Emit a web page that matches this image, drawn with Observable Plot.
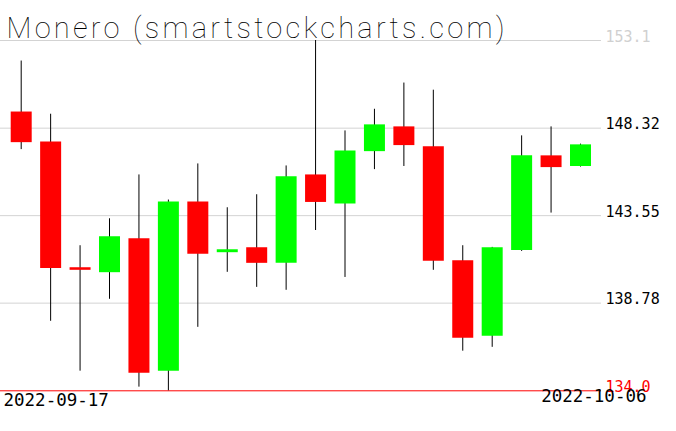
<!DOCTYPE html>
<html>
<head>
<meta charset="utf-8">
<script src="https://cdn.jsdelivr.net/npm/d3@7"></script>
<script src="https://cdn.jsdelivr.net/npm/@observablehq/plot@0.6"></script>
<style>
  html, body { margin: 0; padding: 0; background: #fff; }
  svg { display: block; }
</style>
</head>
<body>
<div id="chart"></div>
<script>
const title = "Monero (smartstockcharts.com)";
const dates = ["2022-09-17","2022-09-18","2022-09-19","2022-09-20","2022-09-21","2022-09-22","2022-09-23","2022-09-24","2022-09-25","2022-09-26",
               "2022-09-27","2022-09-28","2022-09-29","2022-09-30","2022-10-01","2022-10-02","2022-10-03","2022-10-04","2022-10-05","2022-10-06"];
const opens  = [149.20,147.57,140.71,140.44,142.29,135.07,144.30,141.53,141.80,140.95,145.77,144.18,147.04,148.39,147.30,141.09,136.97,141.65,146.81,146.23];
const closes = [147.53,140.67,140.57,142.40,134.96,144.30,141.44,141.69,140.95,145.67,144.27,147.08,148.50,147.37,141.06,136.86,141.80,146.81,146.17,147.41];
const highs  = [151.98,149.08,141.91,143.38,145.77,144.40,146.37,143.98,144.69,146.26,153.10,148.17,149.35,150.78,150.39,141.91,141.82,147.90,148.39,147.45];
const lows   = [147.15,137.79,135.07,138.99,134.20,134.00,137.46,140.46,139.64,139.48,142.74,140.18,146.06,146.23,140.57,136.16,136.37,141.60,143.69,146.20];
const yTicks = [134.0, 138.78, 143.55, 148.32, 153.1];
const yTickLabels = ["134.0", "138.78", "143.55", "148.32", "153.1"];
const yTickColors = ["#ff0000", "#000000", "#000000", "#000000", "#d0d0d0"];
const gridColors = ["#ff0000", "#d3d3d3", "#d3d3d3", "#d3d3d3", "#d3d3d3"];
const dateLabels = ["2022-09-17", "2022-10-06"];

const parse = d3.utcParse("%Y-%m-%d");
const data = dates.map((d, i) => ({
  date: parse(d), open: opens[i], close: closes[i], high: highs[i], low: lows[i],
  color: closes[i] >= opens[i] ? "#00ff00" : "#ff0000"
}));
const ticks = yTicks.map((v, i) => ({v, label: yTickLabels[i], color: yTickColors[i], grid: gridColors[i]}));

const chart = Plot.plot({
  width: 676,
  height: 431,
  marginLeft: 0,
  marginRight: 75,
  marginTop: 40,
  marginBottom: 40.7,
  style: {background: "#fff", overflow: "visible"},
  x: {type: "utc", domain: [data[0].date, data[data.length - 1].date], range: [20.7, 580], axis: null},
  y: {domain: [134, 153.1], axis: null},
  color: {type: "identity"},
  marks: [
    Plot.ruleY(ticks, {y: "v", stroke: "grid", strokeWidth: 1}),
    Plot.text(ticks, {y: "v", text: "label", fill: "color", frameAnchor: "right", textAnchor: "start", lineAnchor: "bottom", dx: 4, dy: 1,
      fontFamily: "DejaVu Sans Mono", fontSize: 15}),
    Plot.ruleX(data, {x: "date", y1: "low", y2: "high", stroke: "#000", strokeWidth: 1}),
    Plot.ruleX(data, {x: "date", y1: "open", y2: "close", stroke: "color", strokeWidth: 21}),
    Plot.text([title], {text: d => d, frameAnchor: "top-left", textAnchor: "start", lineAnchor: "bottom", dx: 6, dy: -3,
      fontFamily: "Roboto", fontWeight: 100, fontSize: 29, fill: "#000", className: "title-text"}),
    Plot.text([dateLabels[0]], {text: d => d, frameAnchor: "bottom-left", textAnchor: "start", lineAnchor: "top", dx: 3, dy: 3,
      fontFamily: "DejaVu Sans Mono", fontSize: 17.5, fill: "#000"}),
    Plot.text([dateLabels[1]], {text: d => d, frameAnchor: "bottom-right", textAnchor: "end", lineAnchor: "top", dx: 45, dy: -1,
      fontFamily: "DejaVu Sans Mono", fontSize: 17.5, fill: "#000"})
  ]
});
// stretch the thin title to the reference's width
const t = chart.querySelector(".title-text text");
if (t) { t.setAttribute("textLength", 498); t.setAttribute("lengthAdjust", "spacing"); }
document.getElementById("chart").appendChild(chart);
</script>
</body>
</html>
